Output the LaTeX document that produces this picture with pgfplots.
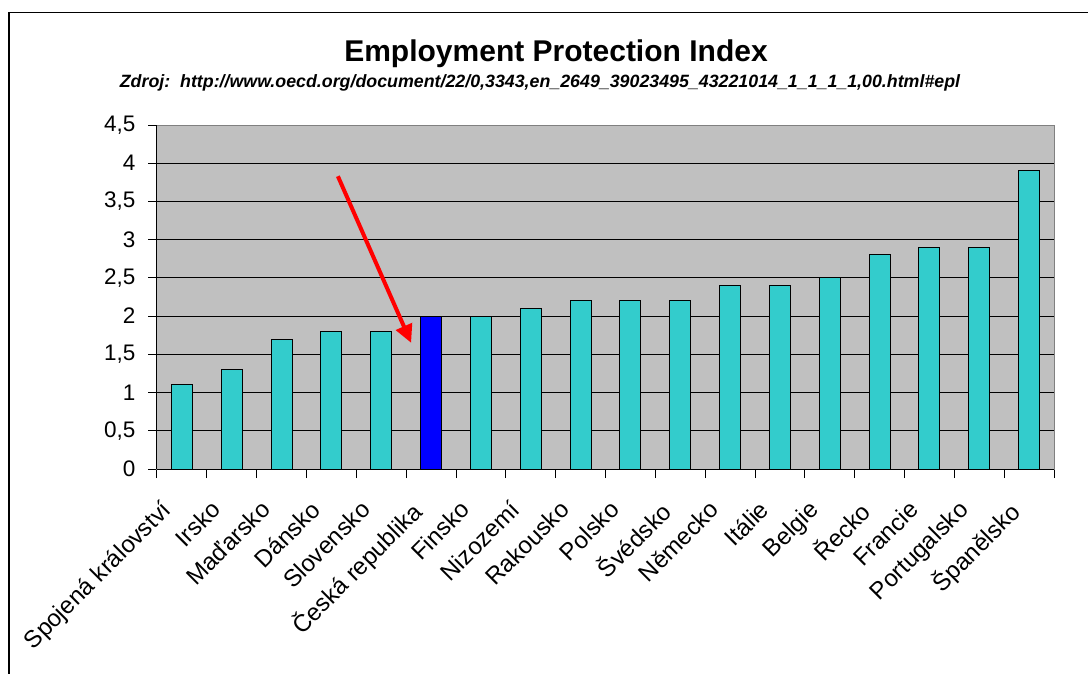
\documentclass[border=0pt]{standalone}
\usepackage{fontspec}
\setmainfont{Liberation Sans}
\usepackage{pgfplots}
\pgfplotsset{compat=1.18}
\usetikzlibrary{arrows.meta}
\definecolor{barcyan}{HTML}{33CCCC}
\definecolor{plotgray}{HTML}{C0C0C0}
\definecolor{bordergray}{HTML}{808080}
\begin{document}
\begin{tikzpicture}[x=1pt,y=1pt]
\useasboundingbox (0,0) rectangle (1088,673);
\draw[line width=1.6pt] (9,-5) -- (9,660.5) -- (1100,660.5);
\node[font=\fontsize{30}{36}\selectfont\bfseries, anchor=base, inner sep=0pt] at (556,611) {Employment Protection Index};
\node[font=\fontsize{17.8}{21}\selectfont\bfseries\itshape, anchor=base, inner sep=0pt] at (540,585) {Zdroj:\ \ http://www.oecd.org/document/22/0,3343,en\_2649\_39023495\_43221014\_1\_1\_1\_1,00.html\#epl};
\begin{axis}[
  at={(157pt,204pt)}, anchor=south west,
  width=897pt, height=344pt, scale only axis,
  xmin=-0.5, xmax=17.5, ymin=0, ymax=4.5,
  ytick={0,0.5,1,1.5,2,2.5,3,3.5,4,4.5},
  yticklabel style={font=\fontsize{22.5}{27}\selectfont, xshift=-9pt, /pgf/number format/use comma, /pgf/number format/assume math mode=true},
  tick align=outside, tick pos=left,
  major tick length=9pt, minor tick length=9pt,
  ytick style={black, line width=1pt},
  xtick={0,...,17},
  xticklabels={Spojená království, Irsko, Maďarsko, Dánsko, Slovensko, Česká republika, Finsko, Nizozemí, Rakousko, Polsko, Švédsko, Německo, Itálie, Belgie, Řecko, Francie, Portugalsko, Španělsko},
  xticklabel style={font=\fontsize{24}{28}\selectfont, xshift=-22pt, yshift=-18pt, rotate=45, anchor=north east, inner sep=2pt},
  major x tick style={draw=none},
  minor xtick={-0.5,0.5,...,17.5},
  minor x tick style={black, line width=1pt},
  ymajorgrids,
  grid style={black, line width=1pt},
  axis background/.style={fill=plotgray},
  axis line style={draw=bordergray, line width=1pt},
  clip=false,
]
\addplot[ybar, bar width=21pt, bar shift=0pt, fill=barcyan, draw=black, line width=1pt]
  coordinates {(0,1.1) (1,1.3) (2,1.7) (3,1.8) (4,1.8) (6,2.0) (7,2.1) (8,2.2) (9,2.2) (10,2.2) (11,2.4) (12,2.4) (13,2.5) (14,2.8) (15,2.9) (16,2.9) (17,3.9)};
\addplot[ybar, bar width=21pt, bar shift=0pt, fill=blue, draw=black, line width=1pt]
  coordinates {(5,2.0)};
\draw[black, line width=1pt] (rel axis cs:0,0) -- (rel axis cs:1,0);
\draw[black, line width=1pt] (rel axis cs:0,0) -- (rel axis cs:0,1);
\draw[red, line width=4pt, -{Triangle[length=18pt,width=17pt]}] (axis cs:3.13,3.83) -- (axis cs:4.60,1.65);
\end{axis}
\end{tikzpicture}
\end{document}
